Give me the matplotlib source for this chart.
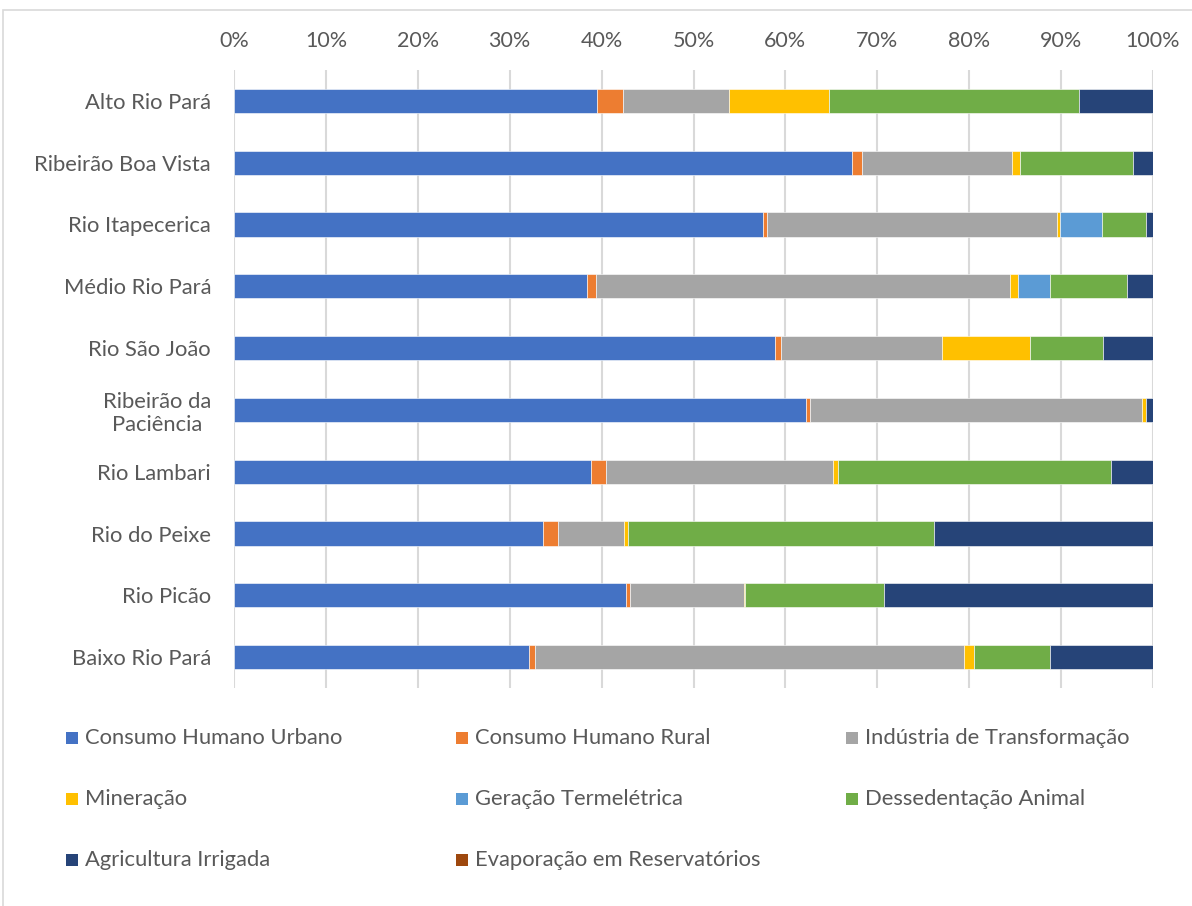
import matplotlib
matplotlib.use("Agg")
import matplotlib.pyplot as plt
from matplotlib.patches import Rectangle
from matplotlib.ticker import PercentFormatter
import numpy as np

plt.rcParams['font.family'] = ['Lato', 'DejaVu Sans']

regions = ["Alto Rio Pará", "Ribeirão Boa Vista", "Rio Itapecerica", "Médio Rio Pará",
           "Rio São João", "Ribeirão da\nPaciência", "Rio Lambari", "Rio do Peixe",
           "Rio Picão", "Baixo Rio Pará"]

series_names = ["Consumo Humano Urbano", "Consumo Humano Rural", "Indústria de Transformação",
                "Mineração", "Geração Termelétrica", "Dessedentação Animal",
                "Agricultura Irrigada", "Evaporação em Reservatórios"]

consumo_urbano = [39.5, 67.3, 57.6, 38.4, 58.9, 62.2, 38.9, 33.6, 42.7, 32.1]
consumo_rural = [2.85, 1.0, 0.4, 1.0, 0.6, 0.5, 1.6, 1.7, 0.4, 0.6]
industria = [11.45, 16.4, 31.5, 45.0, 17.5, 36.1, 24.7, 7.1, 12.4, 46.7]
mineracao = [10.95, 0.8, 0.4, 0.9, 9.6, 0.4, 0.5, 0.5, 0.1, 1.1]
termeletrica = [0.0, 0.0, 4.5, 3.5, 0.0, 0.0, 0.0, 0.0, 0.0, 0.0]
dessedentacao = [27.1, 12.3, 4.8, 8.4, 8.0, 0.0, 29.7, 33.3, 15.1, 8.3]
irrigacao = [8.1, 2.2, 0.8, 2.8, 5.4, 0.8, 4.6, 23.8, 29.3, 11.2]
evaporacao = [0.0] * 10

colors = ["#4472C4", "#ED7D31", "#A5A5A5", "#FFC000", "#5B9BD5", "#70AD47",
          "#264478", "#9E480E"]

data = np.array([consumo_urbano, consumo_rural, industria, mineracao, termeletrica,
                 dessedentacao, irrigacao, evaporacao], dtype=float)
shares = data / data.sum(axis=0) * 100

W, H = 1192, 906
fig = plt.figure(figsize=(W / 100, H / 100), dpi=100)

# chart frame
fig.patches.append(Rectangle((3 / W, -0.01), 1.5, 1 - 10 / H + 0.01, transform=fig.transFigure,
                             fill=False, edgecolor="#d9d9d9", linewidth=1.2))

ax = fig.add_axes([234 / W, 1 - 688 / H, (1153 - 234) / W, (688 - 70) / H])
y = np.arange(len(regions))
left = np.zeros(len(regions))
for vals, color, name in zip(shares, colors, series_names):
    ax.barh(y, vals, left=left, height=0.39, color=color, edgecolor="white",
            linewidth=0.4, label=name, zorder=3)
    left += vals

ax.set_xlim(0, 100)
ax.set_ylim(len(regions) - 0.5, -0.5)
ax.set_xticks(np.arange(0, 101, 10))
ax.xaxis.set_major_formatter(PercentFormatter(decimals=0))
ax.xaxis.tick_top()
ax.tick_params(axis="x", length=0, pad=14, labelsize=15.5, labelcolor="#595959")
ax.tick_params(axis="y", length=0, pad=16.5, labelsize=15.8, labelcolor="#595959")
ax.set_yticks(y)
ax.set_yticklabels(regions, multialignment="center")
ax.grid(axis="x", color="#d9d9d9", linewidth=1.5, zorder=0)
for s in ax.spines.values():
    s.set_visible(False)

# legend laid out in three columns
leg_cols = [66, 456, 846]
leg_rows = [738, 799, 860]
for i, (name, color) in enumerate(zip(series_names, colors)):
    cx = leg_cols[i % 3]
    cy = leg_rows[i // 3]
    fig.patches.append(Rectangle((cx / W, 1 - (cy + 6) / H), 12 / W, 12 / H,
                                 transform=fig.transFigure, facecolor=color,
                                 edgecolor="none"))
    fig.text((cx + 19) / W, 1 - cy / H, name, fontsize=15.8, color="#595959",
             va="center", ha="left")

fig.savefig("out.png", dpi=100, facecolor="white")
